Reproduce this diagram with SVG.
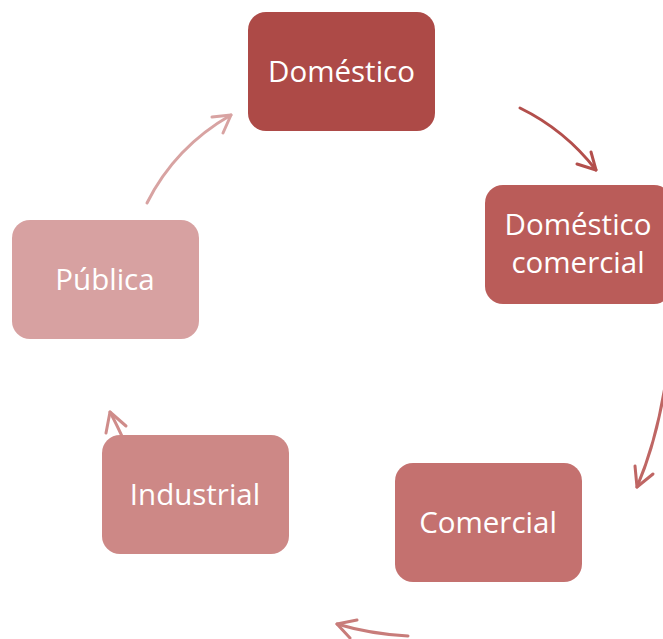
<svg xmlns="http://www.w3.org/2000/svg" width="663" height="639" viewBox="0 0 663 639">
<style>
.lbl{font-family:"Open Sans","Liberation Sans",sans-serif;font-size:29.5px;fill:#fff;text-anchor:middle}
.arr{fill:none;stroke-width:3;stroke-linecap:round;stroke-linejoin:round}
</style>
<rect width="663" height="639" fill="#fff"/>
<g id="connectors">
<g><path class="arr" stroke="#B34F4C" d="M520,108 Q565,130 596,170"/><path class="arr" stroke="#B34F4C" d="M591,152 L596,170 L577,164"/></g>
<g><path class="arr" stroke="#BF6664" d="M666,380 Q657,440 637,487"/><path class="arr" stroke="#BF6664" d="M635,466 L637,487 L653,474"/></g>
<g><path class="arr" stroke="#C87C7A" d="M408,636 Q370,634 337,624"/><path class="arr" stroke="#C87C7A" d="M357,620 L337,624 L350,638"/></g>
<g><path class="arr" stroke="#CF8C8A" d="M126,445 Q117,425 110,412"/><path class="arr" stroke="#CF8C8A" d="M106,433 L110,412 L126,426"/></g>
<g><path class="arr" stroke="#D8A3A2" d="M147,203 Q175,147 231,115"/><path class="arr" stroke="#D8A3A2" d="M212,117 L231,115 L223,133"/></g>
</g>
<g id="domestico"><rect x="248" y="12" width="187" height="119" rx="18" fill="#AD4A47"/><text class="lbl" x="341.5" y="82">Doméstico</text></g>
<g id="domestico-comercial"><rect x="485" y="185" width="187" height="119" rx="18" fill="#BA5C59"/><text class="lbl" x="578" y="235">Doméstico</text><text class="lbl" x="578" y="273">comercial</text></g>
<g id="comercial"><rect x="395" y="463" width="187" height="119" rx="18" fill="#C4716F"/><text class="lbl" x="488" y="533">Comercial</text></g>
<g id="industrial"><rect x="102" y="435" width="187" height="119" rx="18" fill="#CD8886"/><text class="lbl" x="195" y="505">Industrial</text></g>
<g id="publica"><rect x="12" y="220" width="187" height="119" rx="18" fill="#D7A1A1"/><text class="lbl" x="105" y="290">Pública</text></g>
</svg>
